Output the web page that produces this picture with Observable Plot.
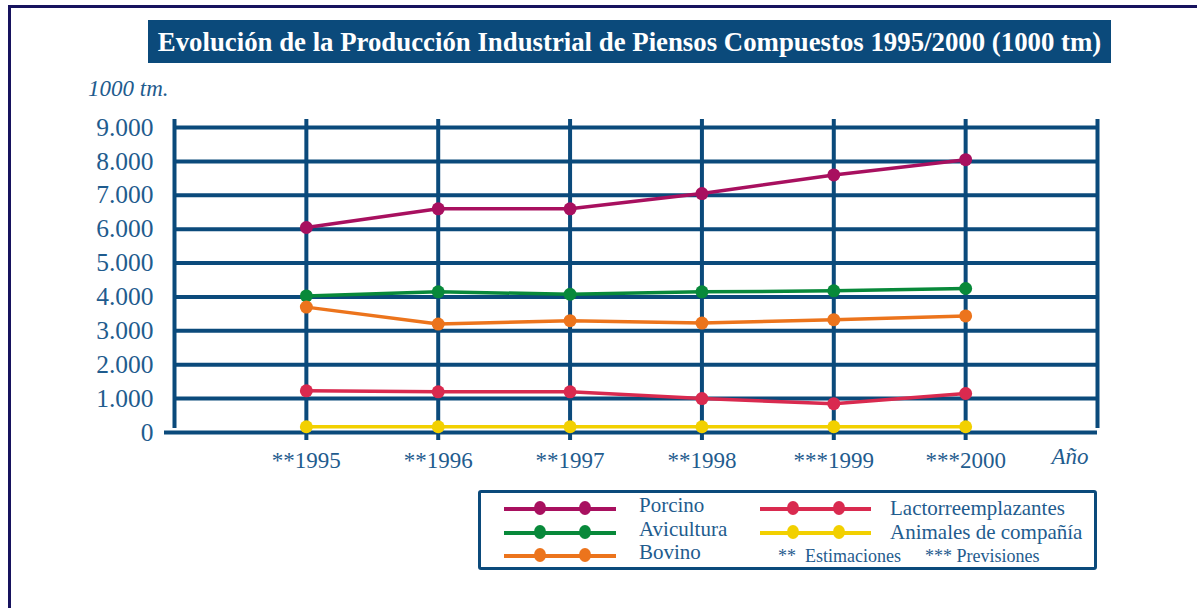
<!DOCTYPE html>
<html>
<head>
<meta charset="utf-8">
<script src="https://cdn.jsdelivr.net/npm/d3@7"></script>
<script src="https://cdn.jsdelivr.net/npm/@observablehq/plot@0.6"></script>
<style>
  html, body { margin: 0; padding: 0; background: #fff; }
  #page { position: relative; width: 1197px; height: 608px; overflow: hidden; font-family: "Liberation Serif", "Times New Roman", serif; }
  #frame { position: absolute; left: 8px; top: 5px; width: 1300px; height: 700px; border-top: 3px solid #17135e; border-left: 3px solid #17135e; }
  #title { position: absolute; left: 148px; top: 20px; width: 963px; height: 43px; background: #0b4a7b; color: #fff; font-family: "Liberation Serif", serif; font-weight: bold; font-size: 26.8px; line-height: 44px; text-align: center; white-space: nowrap; }
  #unit { position: absolute; left: 88px; top: 76px; font-style: italic; font-size: 23px; color: #1f5c8e; }
  #chart { position: absolute; left: 0; top: 80px; }
  #legend { position: absolute; left: 478px; top: 490px; width: 613px; height: 74px; border: 3px solid #0b4a7b; border-radius: 3px; }
  #legend svg { position: absolute; left: -478px; top: -490px; overflow: visible; }
</style>
</head>
<body>
<div id="page">
  <div id="frame"></div>
  <div id="title">Evolución de la Producción Industrial de Piensos Compuestos 1995/2000 (1000 tm)</div>
  <div id="unit">1000 tm.</div>
  <div id="chart"></div>
  <div id="legend"></div>
</div>
<script>
// ---- data ----
const years = [1995, 1996, 1997, 1998, 1999, 2000];
const yearLabels = ["**1995", "**1996", "**1997", "**1998", "***1999", "***2000"];
const xDomain = [1994, 2001];
const yTicks = [0, 1000, 2000, 3000, 4000, 5000, 6000, 7000, 8000, 9000];
const seriesNames = ["Porcino", "Avicultura", "Bovino", "Lactorreemplazantes", "Animales de compañía"];
const seriesColors = ["#a8105f", "#08893a", "#ec741c", "#d92a4f", "#f2d000"];
const porcino = [6050, 6600, 6600, 7050, 7600, 8050];
const avicultura = [4030, 4150, 4080, 4150, 4180, 4250];
const bovino = [3700, 3200, 3300, 3230, 3330, 3440];
const lactorreemplazantes = [1230, 1200, 1200, 1000, 850, 1150];
const animales = [170, 170, 170, 170, 170, 170];
const footnotes = ["**  Estimaciones", "*** Previsiones"];

const seriesValues = [porcino, avicultura, bovino, lactorreemplazantes, animales];
const data = [];
seriesNames.forEach((s, i) => years.forEach((yr, j) => data.push({series: s, year: yr, value: seriesValues[i][j]})));

const grid = "#0b4a7b";
const textColor = "#1f5c8e";
const locale = d3.formatLocale({decimal: ",", thousands: ".", grouping: [3], currency: ["", ""]});
const fmt = locale.format(",d");
const labelOf = new Map(years.map((y, i) => [y, yearLabels[i]]));

const plot = Plot.plot({
  width: 1197,
  height: 400,
  marginLeft: 174,
  marginRight: 100,
  marginTop: 47,
  marginBottom: 48,
  style: {fontFamily: "'Liberation Serif', 'Times New Roman', serif", color: textColor, background: "transparent", overflow: "visible"},
  x: {domain: xDomain, axis: null},
  y: {domain: [0, 9000], axis: null},
  color: {domain: seriesNames, range: seriesColors},
  marks: [
    Plot.ruleY(yTicks.filter(d => d > 0), {stroke: grid, strokeWidth: 4}),
    Plot.ruleX(years, {stroke: grid, strokeWidth: 4, insetTop: -8, insetBottom: -8}),
    Plot.ruleX(xDomain, {stroke: grid, strokeWidth: 4, insetTop: -8, insetBottom: 4}),
    Plot.ruleY([0], {stroke: grid, strokeWidth: 4, insetLeft: -10}),
    Plot.axisY({ticks: yTicks, tickFormat: fmt, tickSize: 0, tickPadding: 21, fontSize: 25.5, fill: textColor, label: null}),
    Plot.axisX({ticks: years, tickFormat: d => labelOf.get(d), tickSize: 0, tickPadding: 19, fontSize: 23, fill: textColor, label: null}),
    Plot.text(["Año"], {frameAnchor: "bottom-right", dx: -9, dy: 31, fontSize: 23, fontStyle: "italic", fill: textColor, textAnchor: "end"}),
    Plot.line(data, {x: "year", y: "value", stroke: "series", strokeWidth: 3.5, z: "series"}),
    Plot.dot(data, {x: "year", y: "value", fill: "series", r: 6.5, stroke: "none"})
  ]
});
document.getElementById("chart").appendChild(plot);

// ---- legend ----
const legend = d3.select("#legend").append("svg").attr("width", 1197).attr("height", 608);
const leftCol = {x1: 501, x2: 613, dots: [537, 582], text: 636, dy: -4};
const rightCol = {x1: 757, x2: 868, dots: [790, 836], text: 887, dy: -1};
const rows = [506, 530, 553];
const items = [
  {col: leftCol, row: 0, i: 0},
  {col: leftCol, row: 1, i: 1},
  {col: leftCol, row: 2, i: 2},
  {col: rightCol, row: 0, i: 3},
  {col: rightCol, row: 1, i: 4}
];
items.forEach(({col, row, i}) => {
  const y = rows[row];
  legend.append("line").attr("x1", col.x1).attr("x2", col.x2).attr("y1", y).attr("y2", y)
    .attr("stroke", seriesColors[i]).attr("stroke-width", 4);
  col.dots.forEach(cx => legend.append("ellipse").attr("cx", cx).attr("cy", y - 1).attr("rx", 6).attr("ry", 7).attr("fill", seriesColors[i]));
  legend.append("text").attr("x", col.text).attr("y", y + col.dy).attr("dy", "0.35em")
    .attr("font-size", 21).attr("fill", textColor).text(seriesNames[i]);
});
legend.append("text").attr("x", 775).attr("y", rows[2]).attr("dy", "0.35em").attr("font-size", 18).attr("fill", textColor).attr("xml:space", "preserve").text(footnotes[0]);
legend.append("text").attr("x", 922).attr("y", rows[2]).attr("dy", "0.35em").attr("font-size", 18).attr("fill", textColor).attr("xml:space", "preserve").text(footnotes[1]);
</script>
</body>
</html>
